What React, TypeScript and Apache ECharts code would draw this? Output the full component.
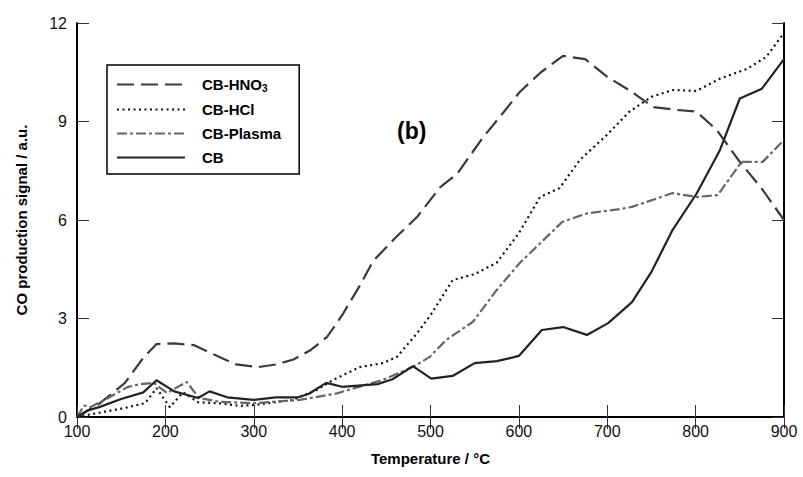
import React, { useEffect, useRef } from "react";
import * as echarts from "echarts";

const xTicks = [100, 200, 300, 400, 500, 600, 700, 800, 900];
const yTicks = [0, 3, 6, 9, 12];

const hno3: [number, number][] = [
  [100, 0], [125, 0.4], [154, 1.03], [175, 1.8], [190, 2.22], [210, 2.24], [232, 2.19],
  [255, 1.9], [280, 1.6], [305, 1.52], [325, 1.6], [345, 1.75], [365, 2.05], [383, 2.44],
  [400, 3.1], [420, 4.0], [435, 4.75], [460, 5.45], [485, 6.1], [511, 7.0], [530, 7.4],
  [559, 8.5], [582, 9.26], [601, 9.9], [625, 10.5], [650, 11.0], [675, 10.9], [700, 10.36],
  [725, 9.95], [752, 9.44], [779, 9.35], [801, 9.3], [824, 8.74], [850, 7.77], [875, 6.95],
  [900, 6.0],
];

const hcl: [number, number][] = [
  [100, 0], [123, 0.12], [153, 0.27], [177, 0.42], [190, 0.88], [205, 0.3], [220, 0.75],
  [237, 0.45], [260, 0.42], [285, 0.34], [303, 0.37], [344, 0.52], [371, 0.82], [390, 1.13],
  [420, 1.52], [446, 1.64], [462, 1.83], [485, 2.56], [500, 3.1], [525, 4.17], [550, 4.35],
  [575, 4.7], [600, 5.6], [624, 6.7], [646, 6.97], [669, 7.83], [700, 8.6], [725, 9.3],
  [750, 9.75], [774, 9.96], [801, 9.93], [827, 10.3], [858, 10.6], [880, 10.97], [900, 11.7],
];

const plasma: [number, number][] = [
  [100, 0], [108, 0.35], [115, 0.3], [130, 0.5], [157, 0.91], [171, 1.0], [187, 1.04],
  [202, 0.73], [224, 1.07], [238, 0.58], [262, 0.46], [300, 0.42], [352, 0.52], [394, 0.72],
  [446, 1.13], [480, 1.52], [499, 1.83], [518, 2.35], [548, 2.9], [575, 3.87], [601, 4.69],
  [649, 5.94], [677, 6.2], [714, 6.33], [728, 6.4], [774, 6.82], [801, 6.7], [825, 6.76],
  [852, 7.77], [876, 7.77], [900, 8.44],
];

const cb: [number, number][] = [
  [100, 0], [112, 0.2], [125, 0.3], [150, 0.55], [175, 0.75], [190, 1.12], [210, 0.78],
  [237, 0.58], [250, 0.78], [270, 0.6], [300, 0.52], [325, 0.6], [350, 0.6], [362, 0.7],
  [382, 1.04], [400, 0.92], [440, 1.0], [457, 1.15], [480, 1.55], [501, 1.17], [525, 1.25],
  [550, 1.64], [575, 1.7], [600, 1.86], [626, 2.65], [650, 2.74], [677, 2.5], [701, 2.86],
  [728, 3.5], [750, 4.42], [774, 5.7], [801, 6.8], [827, 8.1], [850, 9.7], [875, 10.0],
  [900, 10.9],
];

const FONT = "'Liberation Sans', Arial, sans-serif";

export default function App() {
  const ref = useRef<HTMLDivElement>(null);
  useEffect(() => {
    if (!ref.current) return;
    const chart = echarts.init(ref.current, null, { renderer: "svg" });
    const tickStyle = { show: true, inside: true, length: 12, lineStyle: { color: "#333", width: 1 } };
    const axisLine = { show: true, lineStyle: { color: "#000", width: 2 } };
    chart.setOption({
      animation: false,
      backgroundColor: "#fff",
      textStyle: { fontFamily: FONT },
      title: {
        text: "(b)",
        left: 392,
        top: 114,
        textStyle: { fontSize: 23, fontWeight: "bold", color: "#000", fontFamily: FONT },
      },
      grid: { left: 77, right: 19, top: 23, bottom: 60, containLabel: false },
      legend: {
        orient: "vertical",
        left: 107,
        top: 65,
        itemWidth: 68,
        itemHeight: 14,
        itemGap: 9,
        padding: [12, 18, 9, 9],
        borderColor: "#000",
        borderWidth: 1.5,
        itemStyle: { opacity: 0 },
        data: ["CB-HNO3", "CB-HCl", "CB-Plasma", "CB"],
        formatter: (name: string) =>
          name === "CB-HNO3" ? "{b|CB-HNO}{s|3}" : "{b|" + name + "}",
        textStyle: {
          padding: [0, 0, 0, 12],
          rich: {
            b: { fontSize: 15, fontWeight: "bold", color: "#000", fontFamily: FONT },
            s: { fontSize: 10, fontWeight: "bold", color: "#000", fontFamily: FONT, padding: [7, 0, 0, 0] },
          },
        },
      },
      xAxis: [
        {
          type: "value",
          min: 100,
          max: 900,
          interval: 100,
          position: "bottom",
          name: "Temperature / °C",
          nameLocation: "middle",
          nameGap: 34,
          nameTextStyle: { fontSize: 15, fontWeight: "bold", color: "#000", fontFamily: FONT },
          axisLine,
          axisTick: tickStyle,
          splitLine: { show: false },
          axisLabel: {
            fontSize: 16,
            color: "#111",
            margin: 6,
            fontFamily: FONT,
            formatter: (v: number) => (xTicks.includes(v) ? String(v) : ""),
          },
        },
        {
          type: "value",
          min: 100,
          max: 900,
          interval: 100,
          position: "top",
          axisLine,
          axisTick: tickStyle,
          splitLine: { show: false },
          axisLabel: { show: false },
        },
      ],
      yAxis: [
        {
          type: "value",
          min: 0,
          max: 12,
          interval: 3,
          position: "left",
          name: "CO production signal / a.u.",
          nameLocation: "middle",
          nameGap: 48,
          nameTextStyle: { fontSize: 15, fontWeight: "bold", color: "#000", fontFamily: FONT },
          axisLine,
          axisTick: tickStyle,
          splitLine: { show: false },
          axisLabel: {
            fontSize: 16,
            color: "#111",
            margin: 10,
            fontFamily: FONT,
            formatter: (v: number) => (yTicks.includes(v) ? String(v) : ""),
          },
        },
        {
          type: "value",
          min: 0,
          max: 12,
          interval: 3,
          position: "right",
          axisLine,
          axisTick: tickStyle,
          splitLine: { show: false },
          axisLabel: { show: false },
        },
      ],
      series: [
        {
          name: "CB-HNO3",
          type: "line",
          data: hno3,
          symbol: "none",
          lineStyle: { color: "#3a3a3a", width: 2.2, type: [17, 7] },
          itemStyle: { color: "#3a3a3a" },
        },
        {
          name: "CB-HCl",
          type: "line",
          data: hcl,
          symbol: "none",
          lineStyle: { color: "#111", width: 2.2, type: [2, 3.5] },
          itemStyle: { color: "#111" },
        },
        {
          name: "CB-Plasma",
          type: "line",
          data: plasma,
          symbol: "none",
          lineStyle: { color: "#666", width: 2.2, type: [10, 3, 3, 3] },
          itemStyle: { color: "#666" },
        },
        {
          name: "CB",
          type: "line",
          data: cb,
          symbol: "none",
          lineStyle: { color: "#222", width: 2.2, type: "solid" },
          itemStyle: { color: "#222" },
        },
      ],
    });
    return () => chart.dispose();
  }, []);
  return <div ref={ref} style={{ width: 803, height: 477, position: "absolute", left: 0, top: 0 }} />;
}
